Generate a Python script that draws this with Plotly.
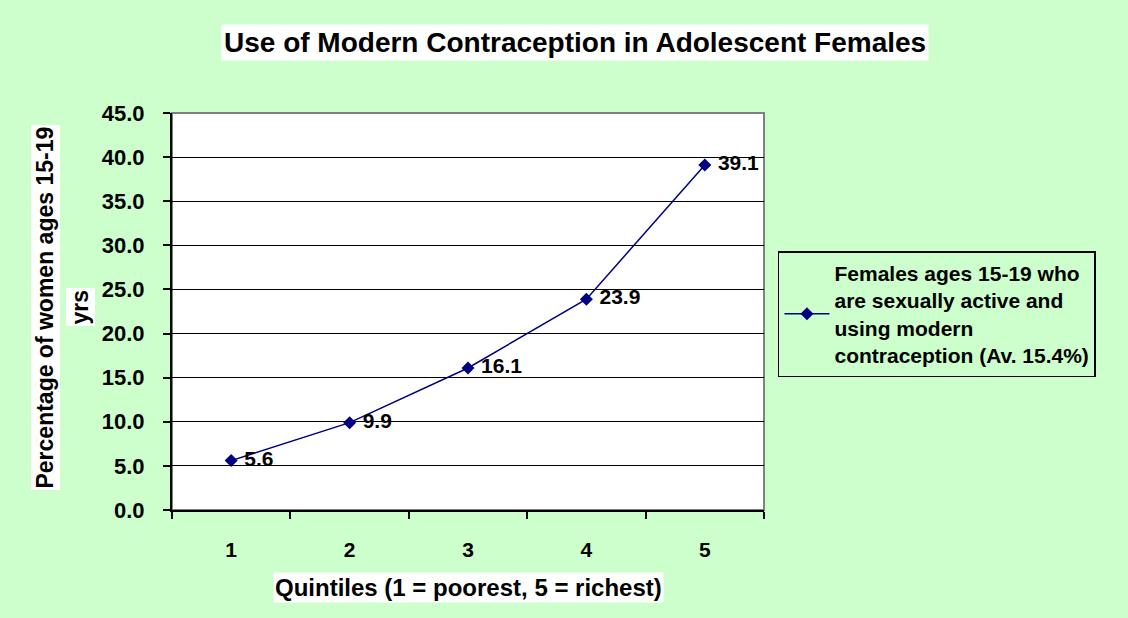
import plotly.graph_objects as go

categories = ["1", "2", "3", "4", "5"]
values = [5.6, 9.9, 16.1, 23.9, 39.1]
value_labels = ["5.6", "9.9", "16.1", "23.9", "39.1"]
y_ticks = [0, 5, 10, 15, 20, 25, 30, 35, 40, 45]
series_name = "Females ages 15-19 who<br>are sexually active and<br>using modern<br>contraception (Av. 15.4%)"
title_text = "Use of Modern Contraception in Adolescent Females"
x_title = "Quintiles (1 = poorest, 5 = richest)"
y_title_1 = "Percentage of women ages 15-19"
y_title_2 = "yrs"

FONT = "Arial, Liberation Sans, sans-serif"
BG = "#CCFFCC"
NAVY = "#000080"

fig = go.Figure()
fig.add_trace(go.Scatter(
    x=categories, y=values, mode="lines+markers+text",
    name=series_name,
    line=dict(color=NAVY, width=1.5),
    marker=dict(symbol="diamond", size=10, color=NAVY),
    text=value_labels, textposition="middle right",
    texttemplate=" %{text}",
    textfont=dict(family=FONT, size=21, color="black", weight="bold"),
    cliponaxis=False,
))

L, R, T, B = 172, 364, 113, 108
fig.update_layout(
    width=1128, height=618,
    paper_bgcolor=BG, plot_bgcolor="white",
    margin=dict(l=L, r=R, t=T, b=B, autoexpand=False),
    font=dict(family=FONT, color="black"),
    showlegend=True,
    legend=dict(
        x=1.0236, y=0.652, xanchor="left", yanchor="top",
        bgcolor=BG, bordercolor="black", borderwidth=1.5,
        font=dict(family=FONT, size=21, color="black", weight="bold"),
        tracegroupgap=0, itemwidth=45,
    ),
    annotations=[
        dict(text=title_text, xref="paper", yref="paper", x=0.681, y=1.0,
             xanchor="center", yanchor="middle", yshift=71, showarrow=False,
             bgcolor="white", borderpad=2,
             font=dict(family=FONT, size=28, color="black", weight="bold")),
        dict(text=x_title, xref="paper", yref="paper", x=0.5, y=0,
             xanchor="center", yanchor="middle", yshift=-77, showarrow=False,
             bgcolor="white", borderpad=1,
             font=dict(family=FONT, size=24, color="black", weight="bold")),
        dict(text=y_title_1, xref="paper", yref="paper", x=0, y=0.51,
             xanchor="center", yanchor="middle", xshift=-127, showarrow=False,
             textangle=-90, bgcolor="white", borderpad=1,
             font=dict(family=FONT, size=23, color="black", weight="bold")),
        dict(text=y_title_2, xref="paper", yref="paper", x=0, y=0.51,
             xanchor="center", yanchor="middle", xshift=-92, showarrow=False,
             textangle=-90, bgcolor="white", borderpad=1,
             font=dict(family=FONT, size=23, color="black", weight="bold")),
    ],
    shapes=[
        dict(type="rect", xref="paper", yref="paper", x0=0, x1=1, y0=0, y1=1,
             line=dict(color="#808080", width=2), layer="below"),
    ],
)

fig.update_xaxes(
    type="category", range=[-0.5, 4.5],
    tickson="boundaries", ticks="outside", ticklen=7, tickwidth=2, tickcolor="black",
    showline=True, linecolor="black", linewidth=2,
    showgrid=False, zeroline=False,
    ticklabelstandoff=20,
    tickfont=dict(family=FONT, size=21, color="black", weight="bold"),
)
fig.update_yaxes(
    range=[0, 45], tickvals=y_ticks, ticktext=[f"{v:.1f}" for v in y_ticks],
    ticks="outside", ticklen=7, tickwidth=2, tickcolor="black",
    showline=True, linecolor="black", linewidth=2,
    showgrid=True, gridcolor="black", gridwidth=1, zeroline=False,
    ticklabelstandoff=14,
    tickfont=dict(family=FONT, size=22, color="black", weight="bold"),
)

fig.write_html("out.html", config={"displayModeBar": False},
               post_script="document.body.style.margin='0';")
